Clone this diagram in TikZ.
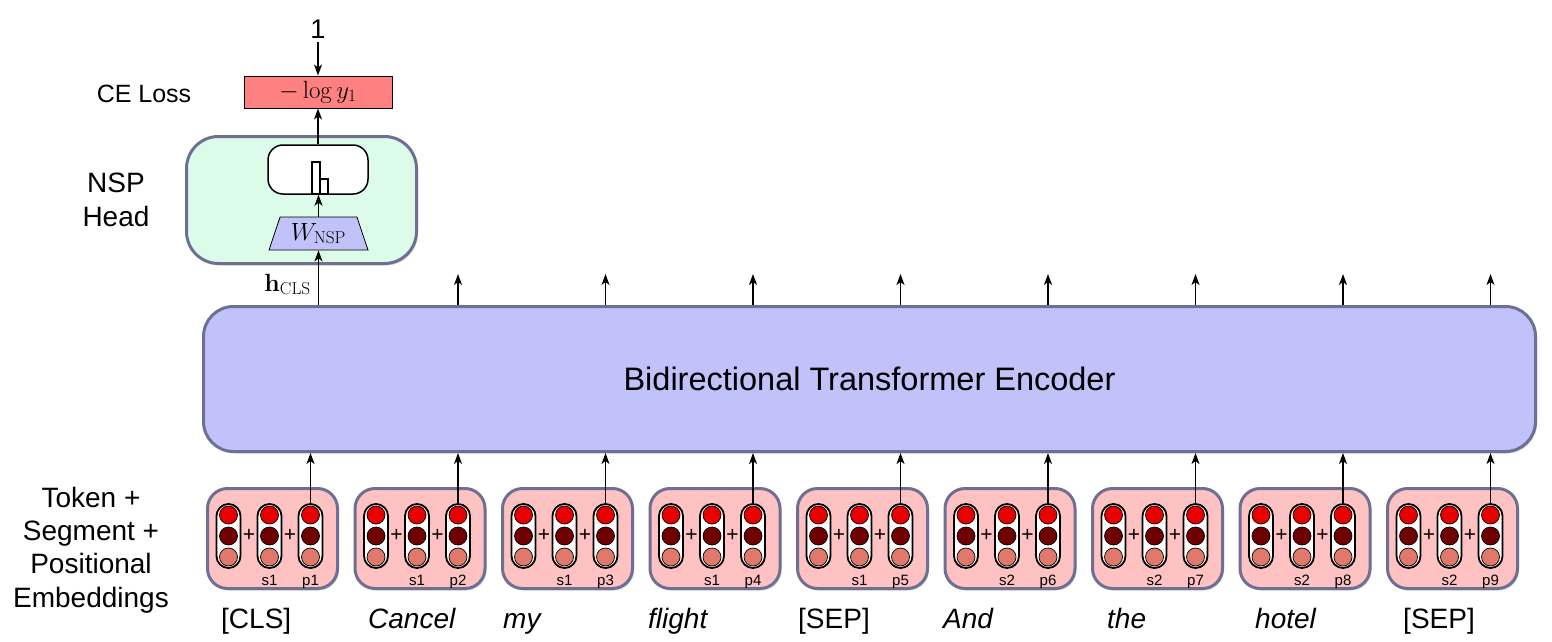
\documentclass[tikz,border=0pt]{standalone}
\usepackage[no-math]{fontspec}
\setmainfont{Liberation Sans}
\usetikzlibrary{arrows.meta,positioning,shapes.geometric,shadows}

\definecolor{encfill}{HTML}{C2C2FA}
\definecolor{boxline}{HTML}{6D6F95}
\definecolor{headfill}{HTML}{DDFBE9}
\definecolor{embfill}{HTML}{FFC2C2}
\definecolor{lossfill}{HTML}{FF8080}
\definecolor{dotA}{HTML}{E80000}
\definecolor{dotB}{HTML}{700000}
\definecolor{dotC}{HTML}{E0786C}

\tikzset{
  boxshadow/.style={drop shadow={opacity=0.3,shadow xshift=1.5pt,shadow yshift=-2pt}},
  encbox/.style={draw=boxline,line width=3pt,fill=encfill,rounded corners=30pt,
    minimum width=1332pt,minimum height=145pt,boxshadow,font=\fontsize{32.5}{38}\selectfont},
  headbox/.style={draw=boxline,line width=3pt,fill=headfill,rounded corners=32pt,
    minimum width=230pt,minimum height=127pt,boxshadow},
  embbox/.style={draw=boxline,line width=3pt,fill=embfill,rounded corners=20pt,
    minimum width=130pt,minimum height=100pt,boxshadow},
  pill/.style={draw,line width=1.8pt,fill=white,rounded corners=12pt,
    minimum width=24pt,minimum height=64pt,inner sep=0pt},
  dot/.style={circle,draw,line width=0.7pt,minimum size=18pt,inner sep=0pt},
  arr/.style={-{Stealth[length=11pt,width=8pt,inset=3pt]},line width=1.4pt},
  word/.style={anchor=base west,inner sep=0pt,font=\fontsize{28}{33}\selectfont},
  sidelbl/.style={align=center,font=\fontsize{28}{33.3}\selectfont},
  tag/.style={anchor=base,inner sep=0pt,font=\fontsize{15}{18}\selectfont},
  mathlbl/.style={font=\fontsize{25}{30}\selectfont},
}

\begin{document}
\begin{tikzpicture}[x=1pt,y=-1pt]
\useasboundingbox (0,0) rectangle (1552,642);

% encoder
\node[encbox] (enc) at (869.5,379) {Bidirectional Transformer Encoder};

% NSP head
\node[headbox] (head) at (301.5,200) {};
\node[draw,line width=1.5pt,fill=white,rounded corners=15pt,
  minimum width=100pt,minimum height=49pt] (smax) at (318,169.5) {};
\draw[line width=1.2pt] (312,162) rectangle (320,194);
\draw[line width=1.2pt] (320,179) rectangle (328,194);
\node[trapezium,trapezium angle=64,trapezium stretches body,draw,line width=0.8pt,
  fill=encfill,minimum width=99pt,minimum height=33pt,inner sep=1pt,mathlbl]
  (wnsp) at (318.5,233.5) {$W_{\mathrm{NSP}}$};
\node[draw,line width=1pt,fill=lossfill,minimum width=148pt,minimum height=32pt,
  inner sep=1pt,mathlbl] (loss) at (318,92) {$-\log y_1$};
\node[anchor=base,font=\fontsize{27}{30}\selectfont] (one) at (318,38) {1};
\node[anchor=base east,inner sep=0pt,font=\fontsize{27}{30}\selectfont] (hcls) at (311,291) {$\mathbf{h}_{\mathrm{CLS}}$};

\draw[arr] (one.south) -- (loss.north);
\draw[arr] (smax.north) -- (loss.south);
\draw[arr] (wnsp.north) -- (wnsp.north |- smax.south);
\draw[arr] (wnsp.south |- enc.north) -- (wnsp.south);

% side labels
\node[anchor=base,font=\fontsize{25}{30}\selectfont] (celbl) at (144,102) {CE Loss};
\node[sidelbl] (nsplbl) at (116,200) {NSP\\Head};
\node[sidelbl] (emblbl) at (91,550) {Token +\\Segment +\\Positional\\Embeddings};

% embeddings
\coordinate (top) at (0,274);
\foreach \i/\s in {1/1,2/1,3/1,4/1,5/1,6/2,7/2,8/2,9/2} {
  \pgfmathsetmacro\cx{272.5+147.5*(\i-1)}
  \node[embbox] (emb\i) at (\cx,538.5) {};
  \node[pill] (tok\i) at (\cx-44,536) {};
  \node[pill] (seg\i) at (\cx-3,536) {};
  \node[pill] (pos\i) at (\cx+38,536) {};
  \foreach \c in {tok,seg,pos} {
    \node[dot,fill=dotA] at ([yshift=21pt]\c\i.center) {};
    \node[dot,fill=dotB] at (\c\i.center) {};
    \node[dot,fill=dotC] at ([yshift=-21pt]\c\i.center) {};
  }
  \node[font=\fontsize{21}{24}\selectfont,inner sep=0pt] at (\cx-23.5,535) {+};
  \node[font=\fontsize{21}{24}\selectfont,inner sep=0pt] at (\cx+17.5,535) {+};
  \node[tag] at (\cx-3,585) {s\s};
  \node[tag] at (\cx+38,585) {p\i};
  \draw[arr] (pos\i.north) -- (pos\i.north |- enc.south);
}
\foreach \i in {2,...,9}
  \draw[arr] (pos\i.north |- enc.north) -- (pos\i.north |- top);

% words
\node[word] (w1) at (221,628) {[CLS]};
\node[word] (w2) at (368,628) {\itshape Cancel};
\node[word] (w3) at (503,628) {\itshape my};
\node[word] (w4) at (648,628) {\itshape flight};
\node[word] (w5) at (798,628) {[SEP]};
\node[word] (w6) at (943,628) {\itshape And};
\node[word] (w7) at (1107,628) {\itshape the};
\node[word] (w8) at (1255,628) {\itshape hotel};
\node[word] (w9) at (1403,628) {[SEP]};
\end{tikzpicture}
\end{document}
